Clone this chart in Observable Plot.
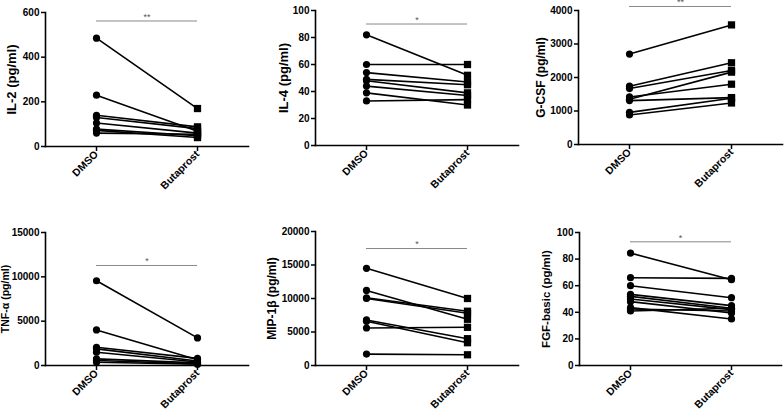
<!DOCTYPE html>
<html>
<head>
<meta charset="utf-8">
<script src="https://cdn.jsdelivr.net/npm/d3@7"></script>
<script src="https://cdn.jsdelivr.net/npm/@observablehq/plot@0.6"></script>
<style>
  body { margin: 0; background: #fff; }
  #chart { position: relative; width: 784px; height: 411px; background: #fff; overflow: hidden; }
  .panel { position: absolute; }
  .panel svg { overflow: visible; }
</style>
</head>
<body>
<div id="chart"></div>
<script>
const conditions = ["DMSO", "Butaprost"];

const il2Dmso = [485, 230, 140, 130, 105, 78, 72, 60];
const il2Buta = [170, 68, 88, 80, 60, 48, 40, 55];
const il2Ticks = [0, 200, 400, 600];

const il4Dmso = [82, 60, 54, 49, 48, 44, 39, 33];
const il4Buta = [52, 60, 47, 45, 39, 37, 30, 34];
const il4Ticks = [0, 20, 40, 60, 80, 100];

const gcsfDmso = [2700, 1740, 1670, 1350, 1420, 1310, 960, 880];
const gcsfButa = [3570, 2440, 2210, 2160, 1800, 1400, 1380, 1240];
const gcsfTicks = [0, 1000, 2000, 3000, 4000];

const tnfDmso = [9560, 4010, 2060, 1875, 1500, 750, 560, 375];
const tnfButa = [3110, 640, 800, 500, 400, 300, 200, 150];
const tnfTicks = [0, 5000, 10000, 15000];

const mipDmso = [14500, 11200, 10100, 10000, 6800, 6600, 5600, 1700];
const mipButa = [10000, 6900, 8100, 7800, 4000, 3400, 5700, 1600];
const mipTicks = [0, 5000, 10000, 15000, 20000];

const fgfDmso = [84.5, 66, 60, 53.5, 52, 50, 48, 43.5, 42.5, 41];
const fgfButa = [64.5, 65.5, 51, 45, 43, 42, 39.5, 35, 41, 43];
const fgfTicks = [0, 20, 40, 60, 80, 100];

const labels = ["IL-2 (pg/ml)", "IL-4 (pg/ml)", "G-CSF (pg/ml)", "TNF-α (pg/ml)", "MIP-1β (pg/ml)", "FGF-basic (pg/ml)"];
const sigLevels = [562, 90, 4120, 11280, 17460, 93];
const sigMarks = ["**", "*", "**", "*", "*", "*"];

const panels = [
  {dmso: il2Dmso, buta: il2Buta, ticks: il2Ticks, butaSymbol: "square",
   box: {left: 0, top: 0, width: 260, height: 200, ml: 45, mr: 12, mt: 12, mb: 54}, labelSize: 13, labelOffset: 39},
  {dmso: il4Dmso, buta: il4Buta, ticks: il4Ticks, butaSymbol: "square",
   box: {left: 260, top: 0, width: 260, height: 200, ml: 55, mr: 2, mt: 10, mb: 55}, labelSize: 13, labelOffset: 37},
  {dmso: gcsfDmso, buta: gcsfButa, ticks: gcsfTicks, butaSymbol: "square",
   box: {left: 520, top: 0, width: 264, height: 200, ml: 58, mr: 2, mt: 10, mb: 56}, labelSize: 12, labelOffset: 42},
  {dmso: tnfDmso, buta: tnfButa, ticks: tnfTicks, butaSymbol: "circle",
   box: {left: 0, top: 200, width: 260, height: 211, ml: 45, mr: 12, mt: 32, mb: 46}, labelSize: 10.5, labelOffset: 44},
  {dmso: mipDmso, buta: mipButa, ticks: mipTicks, butaSymbol: "square",
   box: {left: 260, top: 200, width: 260, height: 211, ml: 55, mr: 2, mt: 31, mb: 46}, labelSize: 12, labelOffset: 48},
  {dmso: fgfDmso, buta: fgfButa, ticks: fgfTicks, butaSymbol: "circle",
   box: {left: 520, top: 200, width: 264, height: 211, ml: 59, mr: 3, mt: 32, mb: 46}, labelSize: 11.5, labelOffset: 38}
];

const chart = document.getElementById("chart");

panels.forEach((p, k) => {
  const rows = [];
  p.dmso.forEach((v, i) => {
    rows.push({subject: i, condition: conditions[0], value: v});
    rows.push({subject: i, condition: conditions[1], value: p.buta[i]});
  });
  const b = p.box;
  const sig = [{y: sigLevels[k], a: conditions[0], b: conditions[1], t: sigMarks[k]}];
  const svg = Plot.plot({
    width: b.width,
    height: b.height,
    marginLeft: b.ml,
    marginRight: b.mr,
    marginTop: b.mt,
    marginBottom: b.mb,
    style: {fontFamily: "'Liberation Sans', Arial, sans-serif", fontWeight: "bold", fontSize: "10px", color: "#000", background: "transparent"},
    x: {type: "point", domain: conditions, padding: 0.5},
    y: {domain: [0, p.ticks[p.ticks.length - 1]]},
    marks: [
      Plot.ruleY(sig, {y: "y", x1: "a", x2: "b", stroke: "#888", strokeWidth: 1}),
      Plot.text(sig, {y: "y", text: "t", dy: -4, fontSize: 9, fill: "#555", fontWeight: "normal"}),
      Plot.line(rows, {x: "condition", y: "value", z: "subject", stroke: "#000", strokeWidth: 1.6}),
      Plot.dot(rows.filter(d => d.condition === conditions[0]), {x: "condition", y: "value", r: 3.6, fill: "#000", symbol: "circle"}),
      Plot.dot(rows.filter(d => d.condition === conditions[1]), {x: "condition", y: "value", r: p.butaSymbol === "square" ? 4.1 : 3.6, fill: "#000", symbol: p.butaSymbol}),
      Plot.frame({anchor: "left", stroke: "#000", strokeWidth: 1.6}),
      Plot.frame({anchor: "bottom", stroke: "#000", strokeWidth: 1.6}),
      Plot.axisY({ticks: p.ticks, tickFormat: d => String(d), tickSize: 4, tickPadding: 2, strokeWidth: 1.5,
        label: labels[k], labelAnchor: "center", labelArrow: "none", labelOffset: p.labelOffset, fontSize: 10}),
      Plot.axisX({tickSize: 5, tickRotate: -45, tickPadding: 1, strokeWidth: 1.5, label: null, fontSize: 10.5})
    ]
  });
  svg.querySelectorAll("g[aria-label='y-axis label'] text").forEach(t => t.setAttribute("font-size", p.labelSize));
  const div = document.createElement("div");
  div.className = "panel";
  div.style.left = b.left + "px";
  div.style.top = b.top + "px";
  div.appendChild(svg);
  chart.appendChild(div);
});
</script>
</body>
</html>
